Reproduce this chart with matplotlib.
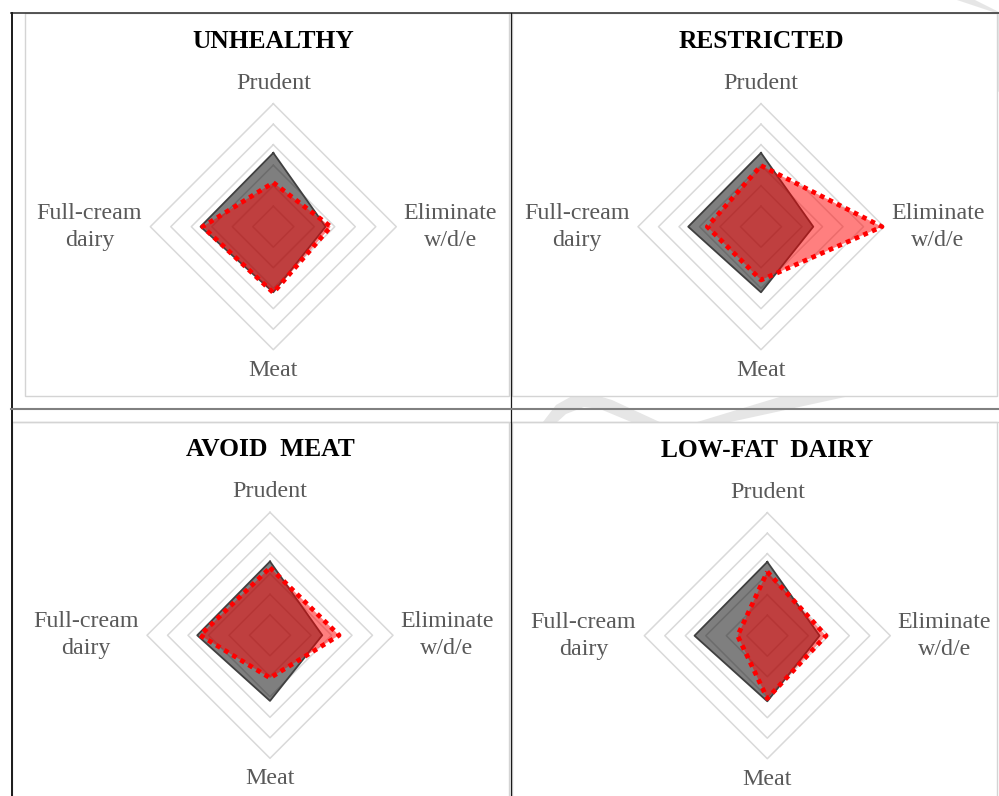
import numpy as np
import matplotlib
matplotlib.use('Agg')
import matplotlib.pyplot as plt
from matplotlib.patches import Rectangle, Polygon

# axes, clockwise from the top
categories = ['Prudent', 'Eliminate\nw/d/e', 'Meat', 'Full-cream\ndairy']

# grey reference shape, same in all four panels
overall = [3.6, 2.55, 3.2, 3.55]

# red shape, one per panel
titles = ['UNHEALTHY', 'RESTRICTED', 'AVOID  MEAT', 'LOW-FAT  DAIRY']
unhealthy = [2.15, 2.8, 3.22, 3.45]
restricted = [2.98, 5.9, 2.6, 2.62]
avoid_meat = [3.3, 3.37, 2.08, 3.41]
low_fat_dairy = [3.12, 2.86, 3.06, 1.45]
cluster_values = [unhealthy, restricted, avoid_meat, low_fat_dairy]

rings = [1, 2, 3, 4, 5, 6]

W, H = 999, 796
unit = 20.5          # pixels per unit of radius
rmax = 6.5
centres = [(273.3, 226.7), (761, 226.7), (270, 635.3), (767.3, 635.7)]

plt.rcParams['font.family'] = ['Liberation Serif', 'DejaVu Serif']

fig = plt.figure(figsize=(W / 100, H / 100), dpi=100)
bg = fig.add_axes([0, 0, 1, 1])
bg.set_xlim(0, W)
bg.set_ylim(H, 0)
bg.axis('off')

# faint watermark pieces showing between the table cells
wm = '#e6e6e6'
bg.add_patch(Polygon([(543, 422), (556, 405), (572, 396), (592, 394), (612, 400),
                      (664, 424), (636, 424), (600, 409), (584, 407), (566, 414), (555, 424)],
                     closed=True, color=wm, lw=0, zorder=0))
bg.add_patch(Polygon([(684, 426), (712, 426), (868, 392), (796, 392)],
                     closed=True, color=wm, lw=0, zorder=0))
bg.add_patch(Polygon([(957, 0), (975, 0), (999, 12), (999, 92), (996, 90), (996, 13)],
                     closed=True, color=wm, lw=0, zorder=0))

# white chart areas with thin grey borders
boxes = [(25, 13, 509, 396), (512, 13, 997, 396), (12, 422, 509, 800), (512, 422, 997, 800)]
for x0, y0, x1, y1 in boxes:
    bg.add_patch(Rectangle((x0, y0), x1 - x0, y1 - y0, facecolor='white',
                           edgecolor='#d4d4d4', lw=1, zorder=1))
bg.plot([12, W], [422, 422], color='#d4d4d4', lw=1, zorder=2)

# table rules
bg.plot([11, W], [13, 13], color='#3a3a3a', lw=1.2, zorder=3)
bg.plot([11.7, 11.7], [13, H], color='#1a1a1a', lw=1.4, zorder=3)
bg.plot([511, 511], [13, H], color='#1a1a1a', lw=0.9, zorder=3)
bg.plot([11, W], [408.5, 408.5], color='#808080', lw=1.5, zorder=3)

theta = np.deg2rad([0, 90, 180, 270, 360])

for (cx, cy), title, vals in zip(centres, titles, cluster_values):
    half = rmax * unit
    ax = fig.add_axes([(cx - half) / W, (H - cy - half) / H, 2 * half / W, 2 * half / H],
                      projection='polar')
    ax.set_theta_zero_location('N')
    ax.set_theta_direction(-1)
    ax.set_ylim(0, rmax)
    ax.axis('off')

    for r in rings:
        ax.plot(theta, [r] * 5, color='#d9d9d9', lw=1.1, zorder=1)

    g = overall + overall[:1]
    ax.fill(theta, g, color='black', alpha=0.5, lw=0, zorder=2)
    ax.plot(theta, g, color='#404040', lw=1.3, zorder=3)

    v = vals + vals[:1]
    ax.fill(theta, v, color='red', alpha=0.5, lw=0, zorder=4)
    ax.plot(theta, v, color='red', lw=3.4, linestyle=(0, (1, 1)),
            dash_capstyle='butt', zorder=5)

    lab = dict(color='#595959', fontsize=17.3, multialignment='center', linespacing=1.38)
    ax.text(np.deg2rad(0), 7.0, categories[0], ha='center', va='center', **lab)
    ax.text(np.deg2rad(90), 6.35, categories[1], ha='left', va='center', **lab)
    ax.text(np.deg2rad(180), 7.0, categories[2], ha='center', va='center', **lab)
    ax.text(np.deg2rad(270), 6.4, categories[3], ha='right', va='center', **lab)

    bg.text(cx, cy - 185.5, title, ha='center', va='center', fontsize=18.4,
            fontweight='bold', color='black', zorder=4)

fig.savefig('out.png', dpi=100)
